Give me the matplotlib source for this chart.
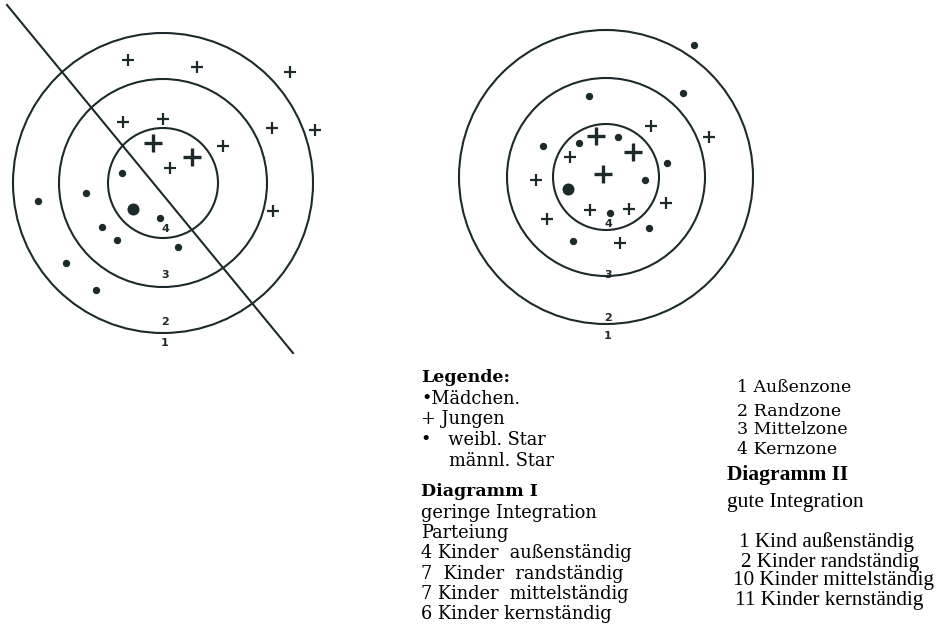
import matplotlib.pyplot as plt
from matplotlib.patches import Circle

# zone numbers, from outside (1) to the core (4)
zone_labels = ["1", "2", "3", "4"]

# Diagramm I: positions relative to the centre (x right, y up), in px
d1_boys_x = [-35, 34, 127, -40, 0, 109, 152, 60, 7, 110]
d1_boys_y = [123, 116, 111, 61, 64, 55, 53, 37, 15, -28]
d1_star_boys_x = [-10, 29]
d1_star_boys_y = [40, 26]
d1_girls_x = [-41, -125, -77, -3, -61, -46, 15, -97, -67]
d1_girls_y = [10, -18, -10, -35, -44, -57, -64, -80, -107]
d1_star_girls_x = [-30]
d1_star_girls_y = [-26]

# Diagramm II
d2_boys_x = [45, 103, -36, -70, 60, -16, 23, -59, 14]
d2_boys_y = [51, 40, 20, -3, -26, -33, -32, -42, -66]
d2_star_boys_x = [-10, 27, -3]
d2_star_boys_y = [41, 25, 3]
d2_girls_x = [88, -17, 77, -63, -27, 12, 61, 39, 4, 43, -33]
d2_girls_y = [132, 81, 84, 31, 34, 40, 14, -3, -36, -51, -64]
d2_star_girls_x = [-38]
d2_star_girls_y = [-12]

legend_lines = ["•Mädchen.", "+ Jungen", "•   weibl. Star", "     männl. Star"]
diag1_lines = ["geringe Integration", "Parteiung", "4 Kinder  außenständig",
               "7  Kinder  randständig", "7 Kinder  mittelständig", "6 Kinder kernständig"]
zone_lines = ["1 Außenzone", "2 Randzone", "3 Mittelzone", "4 Kernzone"]
diag2_lines = ["1 Kind außenständig", "2 Kinder randständig",
               "10 Kinder mittelständig", "11 Kinder kernständig"]

ink = "#1c2a2b"

fig = plt.figure(figsize=(9.37, 6.26), dpi=100)
ax = fig.add_axes([0, 0, 1, 1])
ax.set_xlim(0, 937)
ax.set_ylim(626, 0)
ax.axis("off")


def draw_diagram(cx, cy, radii, label_y, boys, star_boys, girls, star_girls):
    for r in radii:
        ax.add_patch(Circle((cx, cy), r, fill=False, ec=ink, lw=1.5))
    for lab, ly in zip(zone_labels, label_y):
        ax.text(cx + 2, ly, lab, ha="center", va="center", fontsize=8,
                fontweight="bold", color=ink)
    bx, by = boys
    ax.scatter([cx + v for v in bx], [cy - v for v in by], marker="+", s=80, lw=1.6, color=ink)
    bx, by = star_boys
    ax.scatter([cx + v for v in bx], [cy - v for v in by], marker="+", s=170, lw=2.4, color=ink)
    gx, gy = girls
    ax.scatter([cx + v for v in gx], [cy - v for v in gy], marker="o", s=28, color=ink, lw=0)
    gx, gy = star_girls
    ax.scatter([cx + v for v in gx], [cy - v for v in gy], marker="o", s=75, color=ink, lw=0)


draw_diagram(163, 183, [150, 104, 55], [343, 322, 275, 229],
             (d1_boys_x, d1_boys_y), (d1_star_boys_x, d1_star_boys_y),
             (d1_girls_x, d1_girls_y), (d1_star_girls_x, d1_star_girls_y))
# Parteiung line through diagram I
ax.plot([7, 293], [5, 353], color=ink, lw=1.5)

draw_diagram(606, 177, [147, 99, 53], [336, 318, 275, 224],
             (d2_boys_x, d2_boys_y), (d2_star_boys_x, d2_star_boys_y),
             (d2_girls_x, d2_girls_y), (d2_star_girls_x, d2_star_girls_y))

serif = "DejaVu Serif"
ax.text(421, 377, "Legende:", fontsize=12.5, fontweight="bold", family=serif, va="center")
for i, s in enumerate(legend_lines):
    ax.text(421, 399 + i * 20.5, s, fontsize=12.8, family=serif, va="center")
ax.text(421, 491, "Diagramm I", fontsize=12.5, fontweight="bold", family=serif, va="center")
for i, s in enumerate(diag1_lines):
    ax.text(421, 513 + i * 20.2, s, fontsize=12.8, family=serif, va="center")

for s, y in zip(zone_lines, [388, 411, 430, 449]):
    ax.text(737, y, s, fontsize=12.5, family=serif, va="center")

garamond = "Liberation Serif"
ax.text(727, 475, "Diagramm II", fontsize=15.5, fontweight="bold", family=garamond, va="center")
ax.text(727, 503, "gute Integration", fontsize=15.5, family=garamond, va="center")
for s, y, x in zip(diag2_lines, [542, 562, 580, 600], [739, 741, 733, 735]):
    ax.text(x, y, s, fontsize=15.2, family=garamond, va="center")

fig.savefig("out.png", dpi=100)
